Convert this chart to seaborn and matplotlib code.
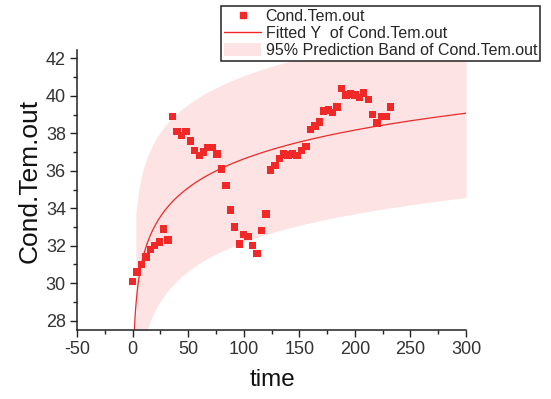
import numpy as np
import pandas as pd
import matplotlib
matplotlib.use("Agg")
import matplotlib.pyplot as plt
import seaborn as sns
from matplotlib.lines import Line2D
from matplotlib.patches import Patch

# ---- data ----
time = list(range(0, 233, 4))
cond_tem_out = [30.08, 30.6, 31.0, 31.4, 31.8, 32.0, 32.2, 32.9, 32.3, 38.9,
                38.1, 37.9, 38.1, 37.6, 37.1, 36.8, 37.0, 37.25, 37.25, 36.9,
                36.1, 35.2, 33.9, 33.0, 32.1, 32.6, 32.5, 32.0, 31.6, 32.8,
                33.7, 36.05, 36.3, 36.65, 36.9, 36.85, 36.9, 36.8, 37.1, 37.3,
                38.2, 38.4, 38.6, 39.2, 39.25, 39.1, 39.4, 40.4, 40.05, 40.1,
                40.05, 39.9, 40.15, 39.8, 39.0, 38.55, 38.9, 38.9, 39.4]
x_ticks = [-50, 0, 50, 100, 150, 200, 250, 300]
y_ticks = [28, 30, 32, 34, 36, 38, 40, 42]
labels = ["Cond.Tem.out", "Fitted Y  of Cond.Tem.out", "95% Prediction Band of Cond.Tem.out"]

df = pd.DataFrame({"time": time, "Cond.Tem.out": cond_tem_out})

# ---- logarithmic fit y = a + b ln(x) (x > 0) with 95% prediction band ----
fit = df[df["time"] > 0]
u = np.log(fit["time"].to_numpy(float))
yv = fit["Cond.Tem.out"].to_numpy(float)
b, a = np.polyfit(u, yv, 1)
n = len(u)
resid = yv - (a + b * u)
s = np.sqrt(np.sum(resid ** 2) / (n - 2))
ubar = u.mean()
sxx = np.sum((u - ubar) ** 2)
t_val = 2.004

xl = np.linspace(0.5, 300, 800)
line_df = pd.DataFrame({"time": xl, "fit": a + b * np.log(xl)})
xb = np.linspace(3, 300, 100)
ub = np.log(xb)
yb = a + b * ub
w = t_val * s * np.sqrt(1 + 1 / n + (ub - ubar) ** 2 / sxx)

# ---- figure ----
sns.set_theme(style="ticks")
plt.rcParams["font.family"] = ["Liberation Sans", "DejaVu Sans"]
plt.rcParams["axes.unicode_minus"] = False

fig = plt.figure(figsize=(5.51, 3.99), dpi=100)
ax = fig.add_axes([77 / 551, 1 - 330 / 399, (466 - 77) / 551, (330 - 50) / 399])

red = "#F02828"
band = "#FDE3E3"
ax.fill_between(xb, yb - w, yb + w, color=band, lw=0, zorder=1)
sns.lineplot(data=line_df, x="time", y="fit", color=red, lw=0.9, ax=ax, zorder=2)
sns.scatterplot(data=df, x="time", y="Cond.Tem.out", marker="s", s=28,
                color=red, edgecolor="none", ax=ax, zorder=3)

ax.set_xlim(-50, 300)
ax.set_ylim(27.5, 42.45)
ax.set_xticks(x_ticks)
ax.set_yticks(y_ticks)
ax.set_xticks(np.arange(-25, 300, 50), minor=True)
ax.set_yticks(np.arange(29, 43, 2), minor=True)
ax.tick_params(which="major", direction="out", length=5, width=1, labelsize=13,
               color="#222222", labelcolor="#333333", pad=3)
ax.tick_params(which="minor", direction="out", length=3, width=1, color="#222222")
for side in ["top", "right"]:
    ax.spines[side].set_visible(False)
for side in ["left", "bottom"]:
    ax.spines[side].set_linewidth(1.1)
    ax.spines[side].set_color("#222222")

ax.set_xlabel("time", fontsize=17.5, color="#111111")
ax.set_ylabel("Cond.Tem.out", fontsize=19, color="#111111")
ax.xaxis.set_label_coords((272 - 77) / 389, -(380 - 330) / 280)
ax.yaxis.set_label_coords((30 - 77) / 389, (330 - 181) / 280)
ax.xaxis.label.set_va("center")
ax.yaxis.label.set_va("center")

handles = [
    Line2D([], [], ls="none", marker="s", color=red, markersize=4.5),
    Line2D([], [], color=red, lw=1),
    Patch(facecolor=band, edgecolor="none"),
]
leg = fig.legend(handles, labels, loc="upper left", bbox_to_anchor=(221 / 551, 1 - 6 / 399),
                 fontsize=11.5, frameon=True, fancybox=False, framealpha=1,
                 edgecolor="#222222", borderpad=0.2, borderaxespad=0,
                 handlelength=2.3, handletextpad=0.3, labelspacing=0.1, handleheight=0.9)
leg.get_frame().set_linewidth(1.1)

fig.savefig("out.png", dpi=100)
